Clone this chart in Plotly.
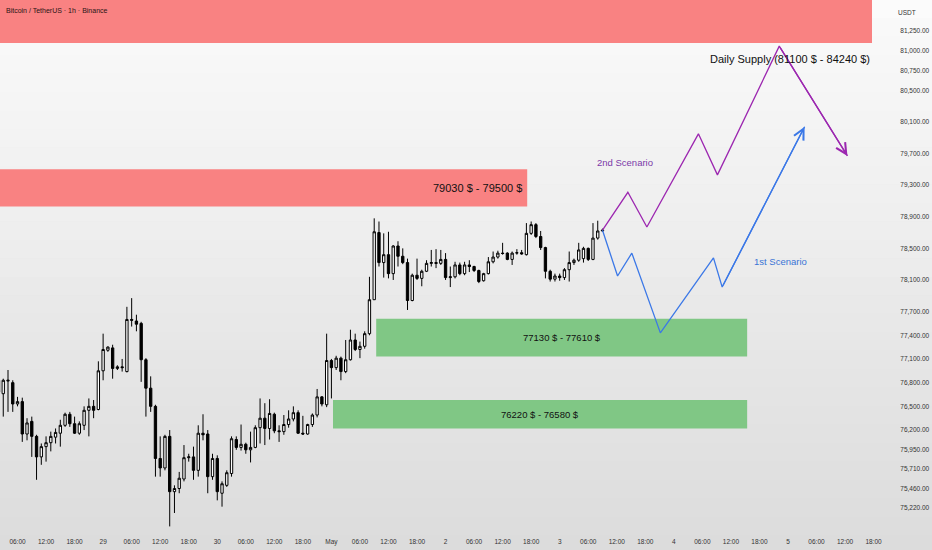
import pandas as pd
import plotly.graph_objects as go

# 1. Data (BTC/USDT, 1h candles starting 2025-04-28 02:00)

candle_start = "2025-04-28 02:00"

opens = [76680, 76660, 76820, 76800, 76530, 76560, 76150, 76310, 76120, 75860,
         75990, 76040, 76110, 76160, 76260, 76400, 76280, 76160, 76260, 76450,
         76500, 76460, 76950, 77210, 77240, 76980, 77000, 76940, 77600, 77580,
         77550, 77090, 76730, 76500, 75840, 75720, 76120, 75420, 75460, 75580,
         75850, 75860, 75690, 76160, 76150, 75610, 75840, 75400, 75500, 75650,
         76080, 75980, 76020, 75950, 75980, 76230, 76350, 76220, 76400, 76190,
         76180, 76270, 76340, 76420, 76160, 76150, 76270, 76390, 76620, 76520,
         77080, 76990, 77110, 76940, 77090, 77340, 77220, 77260, 77420, 77850,
         78700, 78320, 78420, 78180, 78530, 78400, 78320, 77840, 78160, 78120,
         78210, 78310, 78320, 78310, 78360, 78130, 78140, 78290, 78180, 78290,
         78270, 78220, 78090, 78180, 78330, 78390, 78440, 78440, 78360, 78440,
         78445, 78420, 78690, 78800, 78650, 78510, 78210, 78110, 78150, 78130,
         78230, 78320, 78350, 78370, 78500, 78360, 78630, 78720]
highs = [76850, 76850, 76960, 76830, 76620, 76610, 76350, 76370, 76140, 76030,
         76120, 76180, 76220, 76330, 76420, 76430, 76370, 76310, 76500, 76600,
         76580, 77070, 77420, 77260, 77280, 77020, 77100, 77760, 77870, 77660,
         77570, 77110, 76880, 76520, 76120, 76140, 76200, 75500, 75670, 76010,
         75900, 75990, 76260, 76400, 76200, 75900, 75880, 75550, 75690, 76120,
         76120, 76270, 76040, 76180, 76260, 76600, 76540, 76590, 76420, 76260,
         76390, 76450, 76500, 76450, 76380, 76280, 76410, 76720, 76630, 77420,
         77100, 77140, 77130, 77340, 77470, 77420, 77320, 77450, 78140, 78880,
         78840, 78690, 78710, 78540, 78590, 78500, 78370, 78180, 78370, 78230,
         78350, 78480, 78490, 78480, 78440, 78270, 78330, 78320, 78330, 78350,
         78280, 78230, 78190, 78390, 78460, 78470, 78570, 78450, 78460, 78490,
         78480, 78820, 78840, 78820, 78720, 78520, 78230, 78180, 78180, 78250,
         78460, 78370, 78570, 78520, 78510, 78820, 78850, 78750]
lows = [76640, 76370, 76430, 76430, 76500, 76050, 76070, 75860, 75570, 75760,
        75800, 75930, 76030, 75990, 76240, 76240, 76150, 76140, 76200, 76120,
        76350, 76450, 76830, 77190, 76850, 76960, 76940, 76930, 77510, 77450,
        76810, 76370, 76430, 75610, 75610, 75690, 74980, 75150, 75400, 75550,
        75800, 75570, 75610, 76070, 75400, 75570, 75310, 75230, 75480, 75610,
        75950, 75940, 75900, 75790, 75970, 76030, 76010, 76080, 76160, 76050,
        76140, 76230, 76310, 76150, 76140, 76140, 76240, 76360, 76500, 76490,
        76600, 76960, 76830, 76920, 77080, 77200, 77110, 77230, 77400, 77850,
        78270, 78130, 78120, 78100, 78270, 78300, 77720, 77830, 78100, 78020,
        78200, 78270, 78250, 78290, 78100, 78010, 78120, 78160, 78160, 78200,
        78200, 78060, 78080, 78170, 78310, 78370, 78420, 78350, 78290, 78420,
        78420, 78410, 78670, 78630, 78480, 78120, 78080, 78080, 78090, 78100,
        78080, 78290, 78330, 78320, 78340, 78350, 78610, 78710]
closes = [76830, 76830, 76830, 76530, 76560, 76150, 76290, 76120, 75860, 75990,
          76040, 76120, 76170, 76260, 76400, 76280, 76160, 76280, 76450, 76500,
          76450, 76950, 77220, 77250, 76980, 77000, 76990, 77600, 77590, 77540,
          77090, 76730, 76500, 75840, 75720, 76120, 75420, 75460, 75590, 75850,
          75860, 75690, 76160, 76140, 75610, 75840, 75420, 75520, 75660, 76090,
          75980, 76020, 75950, 75980, 76230, 76350, 76220, 76410, 76190, 76180,
          76270, 76340, 76420, 76160, 76150, 76270, 76390, 76620, 76530, 77080,
          76990, 77110, 76940, 77090, 77340, 77220, 77260, 77420, 77850, 78710,
          78320, 78420, 78180, 78530, 78400, 78320, 77840, 78160, 78120, 78210,
          78310, 78320, 78310, 78360, 78130, 78140, 78290, 78180, 78290, 78270,
          78220, 78080, 78180, 78330, 78390, 78440, 78435, 78360, 78440, 78445,
          78430, 78690, 78800, 78650, 78510, 78210, 78110, 78150, 78130, 78230,
          78320, 78350, 78480, 78500, 78360, 78630, 78720, 78730]

# Price zones drawn on the chart
zone_labels = ["Daily Supply (81100 $ - 84240 $)", "79030 $ - 79500 $",
               "77130 $ - 77610 $", "76220 $ - 76580 $"]
zone_low = [81100, 79030, 77130, 76220]
zone_high = [84240, 79500, 77610, 76580]
zone_start = ["2025-04-27 12:00", "2025-04-27 12:00", "2025-05-01 09:25", "2025-05-01 00:20"]
zone_end = ["2025-05-05 17:40", "2025-05-02 17:10", "2025-05-04 15:25", "2025-05-04 15:25"]

# Projected paths
scen2_time = ["2025-05-03 09:00", "2025-05-03 14:20", "2025-05-03 18:20", "2025-05-04 05:10",
              "2025-05-04 09:10", "2025-05-04 22:10", "2025-05-05 12:30"]
scen2_price = [78730, 79210, 78770, 79950, 79430, 81060, 79670]
scen1_time = ["2025-05-03 09:00", "2025-05-03 12:10", "2025-05-03 15:10", "2025-05-03 21:10",
              "2025-05-04 08:20", "2025-05-04 10:10", "2025-05-05 03:30"]
scen1_price = [78730, 78150, 78440, 77430, 78380, 78010, 80040]

# Axis ticks
price_ticks = [81250, 81000, 80750, 80500, 80100, 79700, 79300, 78900, 78500, 78100,
               77700, 77400, 77100, 76800, 76500, 76200, 75950, 75710, 75460, 75220]
time_tick_labels = ["06:00", "12:00", "18:00",
                    "29", "06:00", "12:00", "18:00",
                    "30", "06:00", "12:00", "18:00",
                    "May", "06:00", "12:00", "18:00",
                    "2", "06:00", "12:00", "18:00",
                    "3", "06:00", "12:00", "18:00",
                    "4", "06:00", "12:00", "18:00",
                    "5", "06:00", "12:00", "18:00"]


# 2. Build figure

FONT = "Liberation Sans, Arial, sans-serif"
PURPLE = "#9c27b0"
BLUE = "#3b78e7"
RED_ZONE = "#f98282"
GREEN_ZONE = "#80c785"

times = pd.date_range(candle_start, periods=len(opens), freq="h")
time_ticks = pd.date_range("2025-04-28 06:00", periods=len(time_tick_labels), freq="6h")

fig = go.Figure()

# background gradient (white top -> light grey bottom)
n_bands = 30
for i in range(n_bands):
    t = i / (n_bands - 1)
    c = int(251 - 31 * t)
    fig.add_shape(type="rect", xref="paper", yref="paper",
                  x0=0, x1=1.1, y0=1 - (i + 1) / n_bands * 1.05, y1=1 - i / n_bands * 1.05 + 0.001,
                  fillcolor="rgb(%d,%d,%d)" % (c, c, c), line_width=0, layer="below")

# zones
zone_colors = [RED_ZONE, RED_ZONE, GREEN_ZONE, GREEN_ZONE]
for lo, hi, x0, x1, col in zip(zone_low, zone_high, zone_start, zone_end, zone_colors):
    fig.add_shape(type="rect", xref="x", yref="y", x0=x0, x1=x1, y0=lo, y1=hi,
                  fillcolor=col, line_width=0, layer="below")

fig.add_trace(go.Candlestick(
    x=times, open=opens, high=highs, low=lows, close=closes,
    increasing=dict(fillcolor="white", line=dict(color="black", width=1)),
    decreasing=dict(fillcolor="black", line=dict(color="black", width=1)),
    whiskerwidth=0, showlegend=False, hoverinfo="skip"))

for tm, pr, col in [(scen2_time, scen2_price, PURPLE), (scen1_time, scen1_price, BLUE)]:
    fig.add_trace(go.Scatter(x=tm, y=pr, mode="lines", line=dict(color=col, width=1.3),
                             showlegend=False, hoverinfo="skip"))
    fig.add_annotation(x=tm[-1], y=pr[-1], ax=tm[-2], ay=pr[-2], axref="x", ayref="y",
                       xref="x", yref="y", text="", showarrow=True, arrowhead=5,
                       arrowsize=1.6, arrowwidth=1.3, arrowcolor=col)

# zone labels
fig.add_annotation(x=zone_end[0], y=80900, xref="x", yref="y", text=zone_labels[0],
                   xanchor="right", yanchor="middle", showarrow=False,
                   font=dict(family=FONT, size=11, color="#111111"))
fig.add_annotation(x=zone_end[1], y=(zone_low[1] + zone_high[1]) / 2, xref="x", yref="y",
                   text=zone_labels[1], xanchor="right", xshift=-3, yanchor="middle",
                   showarrow=False, font=dict(family=FONT, size=11, color="#111111"))
for k in (2, 3):
    mid = pd.Timestamp(zone_start[k]) + (pd.Timestamp(zone_end[k]) - pd.Timestamp(zone_start[k])) / 2
    fig.add_annotation(x=mid, y=(zone_low[k] + zone_high[k]) / 2, xref="x", yref="y",
                       text=zone_labels[k], showarrow=False,
                       font=dict(family=FONT, size=9.5, color="#111111"))

fig.add_annotation(x="2025-05-03 13:40", y=79590, xref="x", yref="y", text="2nd Scenario",
                   showarrow=False, font=dict(family=FONT, size=9.5, color="#7b3aa8"))
fig.add_annotation(x="2025-05-04 22:20", y=78330, xref="x", yref="y", text="1st Scenario",
                   showarrow=False, font=dict(family=FONT, size=9.5, color="#3a74d6"))

fig.add_annotation(x=0.0045, y=0.98, xref="paper", yref="paper", xanchor="left",
                   yanchor="middle", text="Bitcoin / TetherUS · 1h · Binance", showarrow=False,
                   font=dict(family=FONT, size=7, color="#2a1515"))
fig.add_annotation(x=1.025, y=0.977, xref="paper", yref="paper", xanchor="center",
                   yanchor="middle", text="USDT", showarrow=False,
                   font=dict(family=FONT, size=6.5, color="#333333"))

fig.update_layout(
    width=932, height=550,
    margin=dict(l=0, r=47, t=0, b=22),
    paper_bgcolor="rgb(220,220,220)",
    plot_bgcolor="rgba(0,0,0,0)",
    boxgap=0.3,
    xaxis=dict(range=["2025-04-28 02:19", "2025-05-05 20:24"], rangeslider=dict(visible=False),
               showgrid=False, zeroline=False, showline=False,
               tickmode="array", tickvals=time_ticks, ticktext=time_tick_labels,
               ticks="outside", ticklen=7, tickcolor="rgba(0,0,0,0)",
               tickfont=dict(family=FONT, size=6.5, color="#333333")),
    yaxis=dict(range=[74960, 81644], side="right", showgrid=False, zeroline=False,
               showline=False, tickmode="array", tickvals=price_ticks,
               ticktext=["{:,.2f}".format(v) for v in price_ticks],
               ticks="outside", ticklen=13, tickcolor="rgba(0,0,0,0)",
               tickfont=dict(family=FONT, size=6.5, color="#333333")),
)

fig.write_html("out.html", config={"displayModeBar": False},
               post_script="document.body.style.margin='0';")
